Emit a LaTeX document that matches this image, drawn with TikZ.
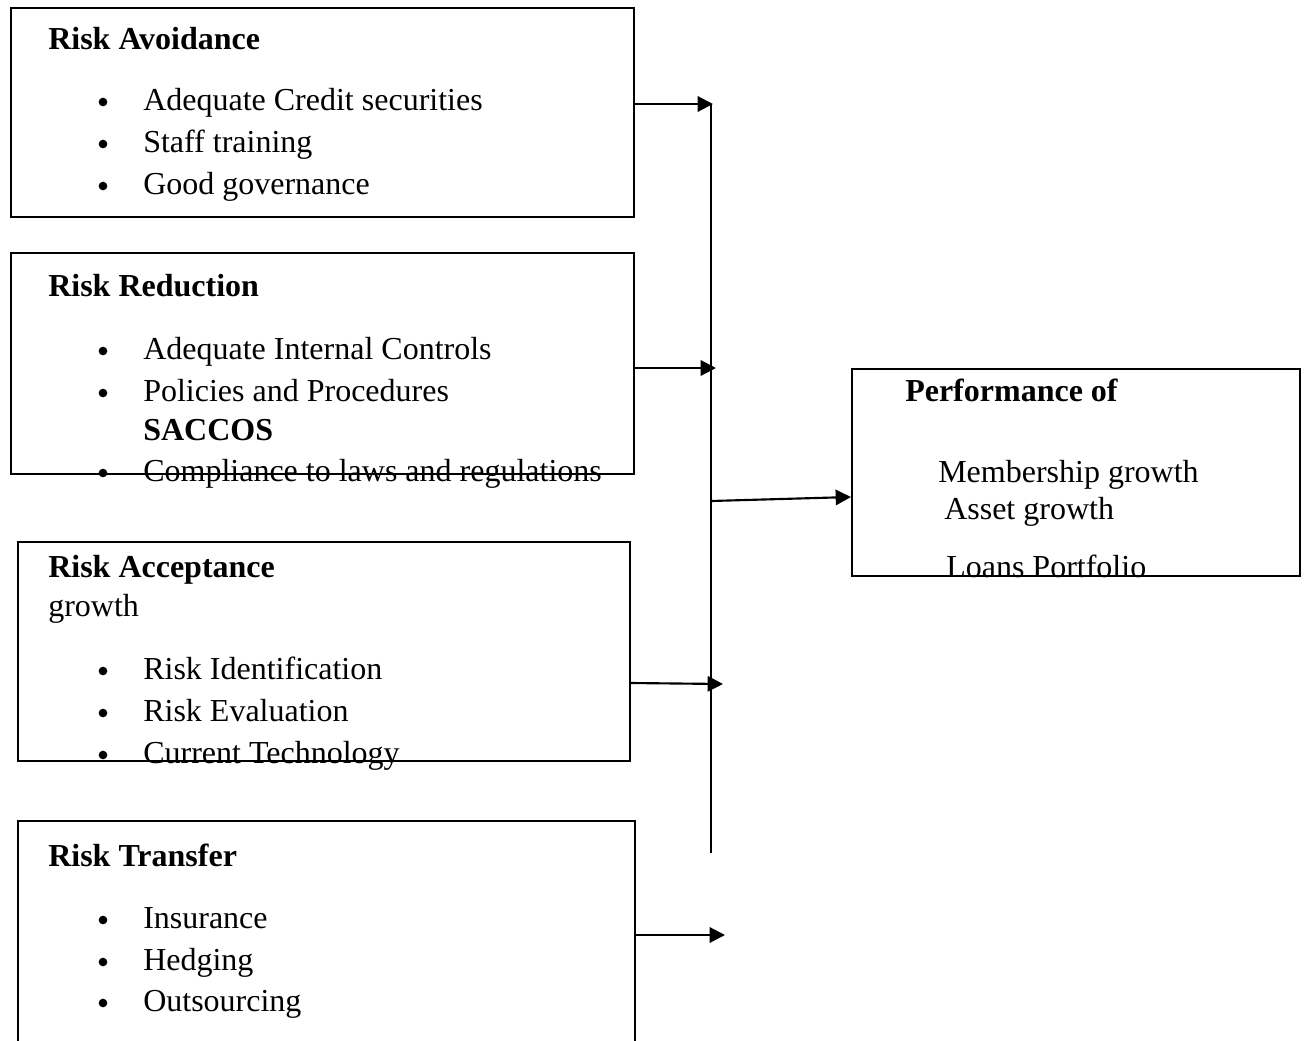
\documentclass[tikz,border=0pt]{standalone}
\usepackage{fontspec}
\setmainfont{Liberation Serif}
\usetikzlibrary{arrows.meta}
\begin{document}
\begin{tikzpicture}[x=0.75pt,y=-0.75pt,
  box/.style={draw,line width=1.6pt,rectangle,inner sep=0pt,anchor=north west},
  txt/.style={anchor=base west,inner sep=0pt,font=\fontsize{24}{30}\selectfont},
  hd/.style={anchor=base west,inner sep=0pt,font=\fontsize{24}{30}\selectfont\bfseries},
  bul/.style={circle,fill,inner sep=0pt,minimum size=6.5pt},
  arr/.style={line width=1.6pt,-{Triangle[length=11.5pt,width=11.5pt]}},
  vline/.style={line width=1.1pt}]
\clip (0,0) rectangle (1304,1040);
% boxes
\node[box,minimum width={623*0.75pt},minimum height={209*0.75pt}] (b1) at (10,7) {};
\node[box,minimum width={623*0.75pt},minimum height={221*0.75pt}] (b2) at (10,252) {};
\node[box,minimum width={612*0.75pt},minimum height={219*0.75pt}] (b3) at (17,541) {};
\node[box,minimum width={617*0.75pt},minimum height={240*0.75pt}] (b4) at (17,820) {};
\node[box,minimum width={448*0.75pt},minimum height={207*0.75pt}] (b5) at (851,368) {};
% box 1
\node[hd] (h1) at (48,49) {Risk Avoidance};
\node[bul] (u11) at (103,102) {};
\node[txt] (t11) at (143,110) {Adequate Credit securities};
\node[bul] (u12) at (103,144) {};
\node[txt] (t12) at (143,152) {Staff training};
\node[bul] (u13) at (103,186) {};
\node[txt] (t13) at (143,194) {Good governance};
% box 2
\node[hd] (h2) at (48,296) {Risk Reduction};
\node[bul] (u21) at (103,351) {};
\node[txt] (t21) at (143,359) {Adequate Internal Controls};
\node[bul] (u22) at (103,393) {};
\node[txt] (t22) at (143,401) {Policies and Procedures};
\node[hd] (s22) at (143,440) {SACCOS};
\node[bul] (u23) at (103,473) {};
\node[txt] (t23) at (143,481) {Compliance to laws and regulations};
% box 3
\node[hd] (h3) at (48,577) {Risk Acceptance};
\node[txt] (g3) at (48,616) {growth};
\node[bul] (u31) at (103,671) {};
\node[txt] (t31) at (143,679) {Risk Identification};
\node[bul] (u32) at (103,713) {};
\node[txt] (t32) at (143,721) {Risk Evaluation};
\node[bul] (u33) at (103,755) {};
\node[txt] (t33) at (143,763) {Current Technology};
% box 4
\node[hd] (h4) at (48,866) {Risk Transfer};
\node[bul] (u41) at (103,920) {};
\node[txt] (t41) at (143,928) {Insurance};
\node[bul] (u42) at (103,962) {};
\node[txt] (t42) at (143,970) {Hedging};
\node[bul] (u43) at (103,1003) {};
\node[txt] (t43) at (143,1011) {Outsourcing};
% box 5
\node[hd] (h5) at (905,401) {Performance of};
\node[txt] (t51) at (938,482) {Membership growth};
\node[txt] (t52) at (944,519) {Asset growth};
\node[txt] (t53) at (946,577) {Loans Portfolio};
% connectors
\coordinate (vt) at (711,104);
\coordinate (vb) at (711,853);
\coordinate (vj) at (711,501);
\coordinate (e1) at (713,104);
\coordinate (e2) at (716,368);
\coordinate (e3) at (723,684);
\coordinate (e4) at (725,935);
\coordinate (e5) at (851,497);
\draw[vline] (vt) -- (vb);
\draw[arr] (b1.east |- e1) -- (e1);
\draw[arr] (b2.east |- e2) -- (e2);
\draw[arr] (b3.east |- 0,683) -- (e3);
\draw[arr] (b4.east |- e4) -- (e4);
\draw[arr] (vj) -- (e5);
\end{tikzpicture}
\end{document}
